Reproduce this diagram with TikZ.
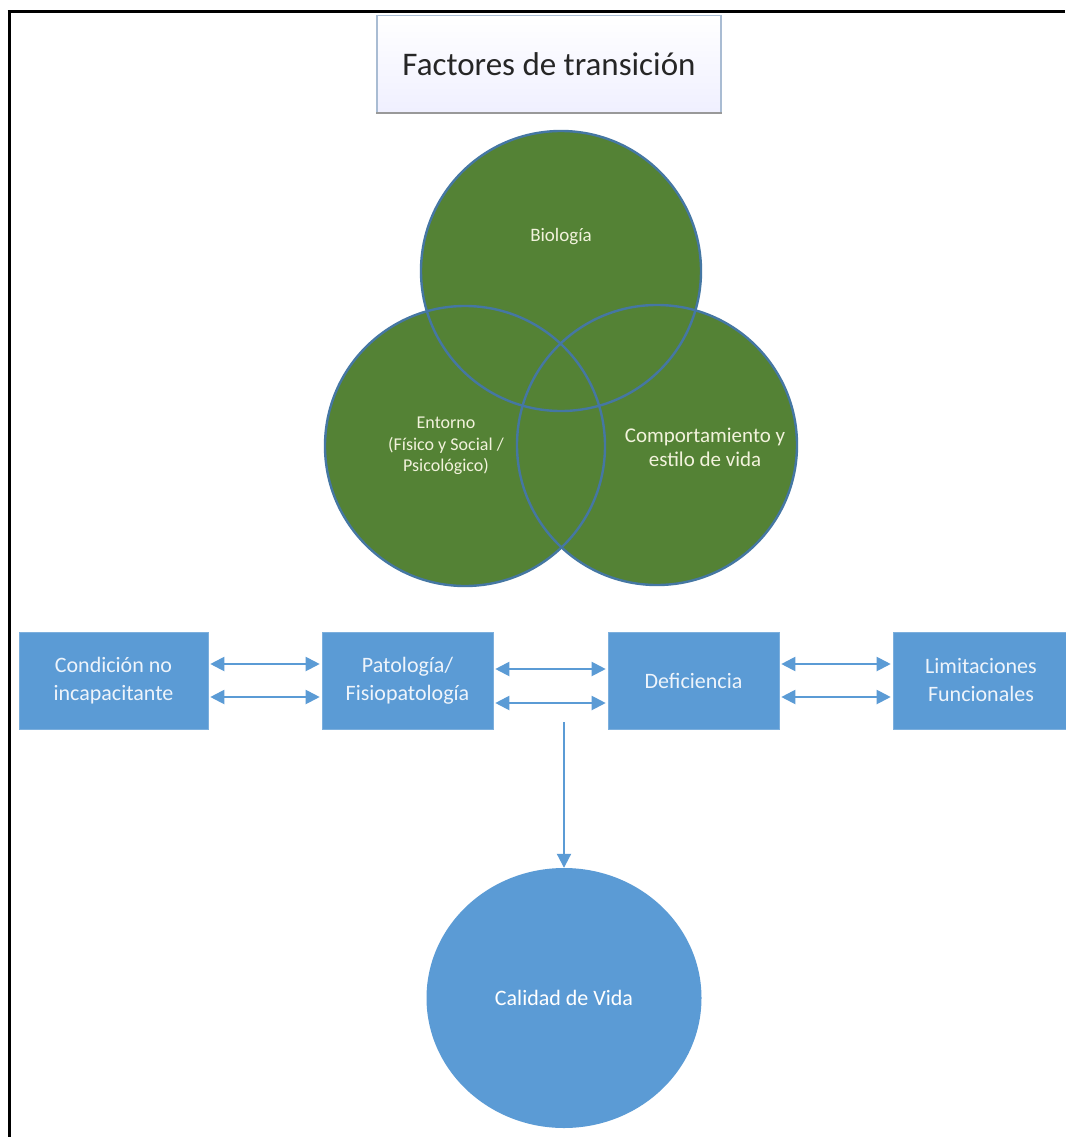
\documentclass[tikz,border=0pt]{standalone}
\usepackage{fontspec}
\setmainfont{Carlito}
\usetikzlibrary{arrows.meta,shapes.geometric}
\definecolor{vgreen}{HTML}{548235}
\definecolor{vline}{HTML}{4577A3}
\definecolor{bblue}{HTML}{5B9BD5}
\definecolor{btext}{HTML}{EEF4FB}
\definecolor{vtext}{HTML}{F2F2DC}
\definecolor{tborder}{HTML}{A9BCD3}
\begin{document}
\begin{tikzpicture}[x=1pt,y=-1pt,
  vennfill/.style={circle, fill=vgreen, draw=none, minimum size=280pt, inner sep=0pt},
  vennline/.style={draw=vline, line width=2.4pt},
  venntext/.style={text=vtext, align=center, font=\fontsize{19}{22}\selectfont},
  stage/.style={rectangle, fill=bblue, draw=bblue!80!white, line width=0.6pt, text=btext, align=center,
    minimum height=97pt, inner sep=0pt, font=\fontsize{22}{28}\selectfont},
  biarrow/.style={draw=bblue, line width=2pt,
    {Triangle[length=14pt,width=14pt]}-{Triangle[length=14pt,width=14pt]},
    shorten <=2pt, shorten >=2pt},
  onearrow/.style={draw=bblue, line width=2pt, -{Triangle[length=14pt,width=14pt]}}
]
\useasboundingbox (0,0) rectangle (1065,1137);
\fill[white] (0,0) rectangle (1065,1137);

% frame lines on the top and left
\draw[black, line width=3pt] (7.5,12) -- (1065,12);
\draw[black, line width=3pt] (9,10.5) -- (9,1137);

% title box
\node[rectangle, minimum width=344pt, minimum height=97pt, inner sep=0pt,
      top color=white, bottom color=blue!6!white, draw=tborder, line width=1.2pt,
      text=black!85, font=\fontsize{33}{36}\selectfont] (title) at (549,64) {Factores de transición};
\draw[draw=black!40, line width=2pt] (title.south west) -- (title.south east);

% three overlapping circles: fills first, outlines on top
\node[vennfill] (bio) at (561,271) {};
\node[vennfill] (ent) at (465,446) {};
\node[vennfill] (com) at (657,445) {};
\foreach \c in {bio,ent,com} \draw[vennline] (\c.center) circle[radius=140pt];

\node[venntext] (tbio) at (561,237) {Biología};
\node[venntext, font=\fontsize{18}{21.5}\selectfont] (tent) at (446,446) {Entorno\\(Físico y Social /\\Psicológico)};
\node[venntext, font=\fontsize{21}{24}\selectfont] (tcom) at (705,447) {Comportamiento y\\estilo de vida};

% chain of stages
\node[stage, minimum width=189pt] (cond) at (113.5,680.5) {Condición no\\incapacitante};
\node[stage, minimum width=171pt] (pat) at (407.5,680.5) {Patología/\\Fisiopatología};
\node[stage, minimum width=171pt] (def) at (693.5,680.5) {Deficiencia};
\node[stage, minimum width=176pt] (lim) at (981,680.5) {Limitaciones\\Funcionales};

\coordinate (ya) at (0,664);
\coordinate (yb) at (0,697);
\coordinate (yc) at (0,669);
\coordinate (yd) at (0,703);
\draw[biarrow] (cond.east |- ya) -- (pat.west |- ya);
\draw[biarrow] (cond.east |- yb) -- (pat.west |- yb);
\draw[biarrow] (pat.east |- yc) -- (def.west |- yc);
\draw[biarrow] (pat.east |- yd) -- (def.west |- yd);
\draw[biarrow] (def.east |- ya) -- (lim.west |- ya);
\draw[biarrow] (def.east |- yb) -- (lim.west |- yb);

% outcome
\node[ellipse, fill=bblue, draw=none, minimum width=275pt, minimum height=260pt, inner sep=0pt,
      text=white, font=\fontsize{22}{26}\selectfont]
      (cal) at (564,998) {Calidad de Vida};
\coordinate (src) at (564,722);
\draw[onearrow] (src) -- (cal.north);
\end{tikzpicture}
\end{document}
